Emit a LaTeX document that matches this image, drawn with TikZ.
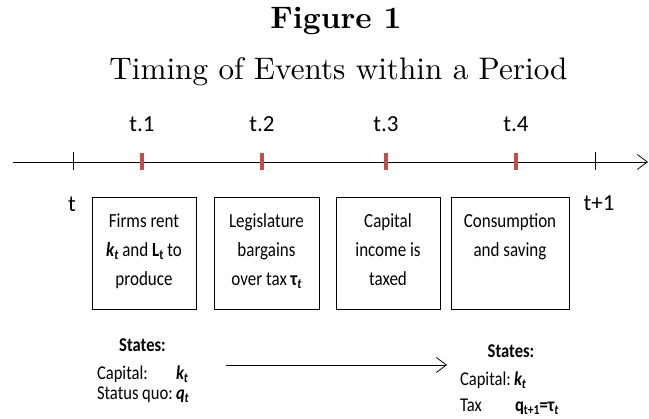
\documentclass[tikz,border=0pt]{standalone}
\usepackage{fontspec}
\usepackage{graphicx}
\usetikzlibrary{arrows.meta}
\newfontfamily\labfont{Carlito}
\newfontfamily\boxfont[FakeStretch=0.85]{Carlito}
\definecolor{tickred}{RGB}{192,80,77}
\newcommand\sbs[1]{\raisebox{-0.3ex}{\scalebox{0.7}{#1}}}
\newcommand\bi[1]{\textbf{\textit{#1}}}
\begin{document}
\begin{tikzpicture}[x=1pt,y=-1pt,
  every node/.style={inner sep=0pt, outer sep=0pt},
  lab/.style={font=\labfont\fontsize{23}{27}\selectfont, anchor=base},
  evbox/.style={draw, line width=1pt, minimum height=112pt},
  evtext/.style={font=\boxfont\fontsize{20}{28.7}\selectfont, align=flush center, anchor=base},
  st/.style={font=\boxfont\fontsize{19.5}{23}\selectfont, anchor=base west},
  redtick/.style={draw=tickred, line width=4.5pt},
  blacktick/.style={line width=0.8pt},
  barb/.style={-{Straight Barb[length=10pt,width=15pt]}, line width=0.8pt}]
\useasboundingbox (0,0) rectangle (649,419);
% titles
\node[anchor=base] (fig) at (336,28.3) {\resizebox{131pt}{!}{\bfseries Figure 1}};
\node[anchor=base] (ttl) at (338.5,80) {\resizebox{458pt}{!}{Timing of Events within a Period}};
% timeline
\coordinate (tl0) at (13,162);
\coordinate (tl1) at (648,162);
\draw[barb] (tl0) -- (tl1);
\draw[blacktick] (73,152) -- (73,170);
\draw[blacktick] (595,152) -- (595,170);
\foreach \x in {142,262,386,516} \draw[redtick] (\x,153) -- (\x,170);
% labels
\node[lab] (l1) at (142,132) {t.1};
\node[lab] (l2) at (262,132) {t.2};
\node[lab] (l3) at (386,132) {t.3};
\node[lab] (l4) at (516,132) {t.4};
\node[lab] (lt) at (72,212) {t};
\node[lab] (ltt) at (599,211) {t+1};
% boxes
\node[evbox, minimum width=104pt] (b1) at (144,254) {};
\node[evbox, minimum width=105pt] (b2) at (266.5,254) {};
\node[evbox, minimum width=104pt] (b3) at (388,254) {};
\node[evbox, minimum width=118pt] (b4) at (510,254) {};
\node[evtext, text width=100pt] (b1t) at (b1.center |- 0,227.7) {Firms rent\\ \bi{k\sbs{t}} and \textbf{L\sbs{t}} to\\ produce};
\node[evtext, text width=100pt] (b2t) at (b2.center |- 0,227.7) {Legislature\\ bargains\\ over tax \textbf{τ\sbs{\textit{t}}}};
\node[evtext, text width=100pt] (b3t) at (b3.center |- 0,227.7) {Capital\\ income is\\ taxed};
\node[evtext, text width=114pt] (b4t) at (b4.center |- 0,227.7) {Consumption\\ and saving};
% states
\node[st, anchor=base] (s1) at (142.5,352) {\bfseries States:};
\node[st] (s1c) at (97,380) {\makebox[79pt][l]{Capital:}\bi{k\sbs{t}}};
\node[st] (s1q) at (97,400) {\makebox[79pt][l]{Status quo:}\bi{q\sbs{t}}};
\node[st, anchor=base] (s2) at (511,358) {\bfseries States:};
\node[st] (s2c) at (460,386) {\makebox[54pt][l]{Capital:}\bi{k\sbs{t}}};
\node[st] (s2t) at (460,412) {\makebox[55pt][l]{Tax}\textbf{q\sbs{t+1}=τ\sbs{\textit{t}}}};
\coordinate (a0) at (226,365);
\coordinate (a1) at (447,365);
\draw[barb] (a0) -- (a1);
\end{tikzpicture}
\end{document}
